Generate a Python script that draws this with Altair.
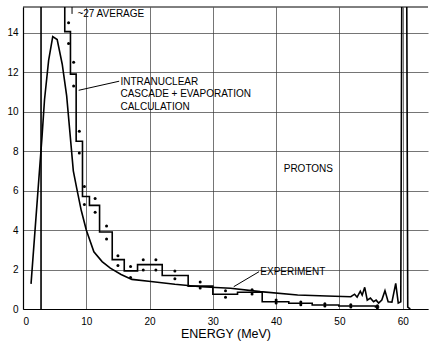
import altair as alt
import pandas as pd

# Calculation histogram (bin left edges / values), off-scale first bin ~27
hist_x = [2.85, 2.85, 6.6, 7.5, 8.4, 9.4, 10.5, 12.1, 14.1, 16.0, 18.1, 22.0, 26.1, 30.0, 33.9, 37.8, 42.0, 45.7, 49.9, 55.7, 56.3]
hist_y = [0.0, 27.0, 14.05, 11.9, 8.5, 5.7, 5.25, 3.9, 2.5, 1.93, 2.25, 1.7, 1.16, 0.75, 0.85, 0.37, 0.29, 0.2, 0.15, 0.1, 0.1]

# Calculation statistical points (upper / lower)
pt_x = [7.2, 8.0, 8.9, 9.7, 11.4, 13.2, 15.0, 17.0, 19.0, 21.0, 24.0, 28.0, 32.0, 36.2, 40.0, 43.9, 47.7, 51.8, 56.0]
pt_hi = [14.5, 12.5, 9.0, 6.2, 5.6, 4.2, 2.7, 2.15, 2.5, 2.5, 1.93, 1.37, 0.92, 0.97, 0.46, 0.36, 0.27, 0.22, 0.17]
pt_lo = [13.45, 11.3, 7.9, 5.3, 4.9, 3.55, 2.2, 1.6, 1.97, 1.97, 1.53, 1.07, 0.6, 0.76, 0.3, 0.22, 0.15, 0.1, 0.05]

# Experiment curve
exp_x = [1.27, 2.6, 3.0, 3.4, 4.05, 4.7, 5.4, 6.2, 6.9, 7.4, 7.95, 8.5, 9.2, 10.0, 11.2, 12.5, 13.8, 15.5, 17.2,
         20.2, 24.0, 28.1, 32.8, 37.5, 43.4, 48.0, 51.8, 52.4, 52.8, 53.3, 53.6, 54.0, 54.4, 54.9, 55.4, 55.8,
         56.2, 56.7, 57.2, 57.7, 58.3, 58.9, 59.3, 59.7, 60.0, 60.5, 60.8, 61.2]
exp_y = [1.27, 7.0, 8.7, 10.6, 12.6, 13.8, 13.65, 12.4, 10.8, 9.0, 7.0, 6.1, 5.0, 4.0, 2.9, 2.4, 2.07, 1.75, 1.5,
         1.39, 1.25, 1.13, 1.05, 0.88, 0.71, 0.66, 0.62, 0.75, 0.6, 0.9, 0.7, 1.1, 0.45, 0.55, 0.37, 0.45,
         0.3, 0.45, 0.93, 0.37, 0.35, 1.3, 0.3, 0.37, 30.0, 30.0, 0.1, 0.0]

x_ticks = list(range(0, 65, 5))
y_ticks = [0, 2, 4, 6, 8, 10, 12, 14]
XMAX = 64.0
YMAX = 15.3

FONT = "Liberation Sans"

xs = alt.Scale(domain=[0, XMAX], nice=False, zero=False)
ys = alt.Scale(domain=[0, YMAX], nice=False)

hist_df = pd.DataFrame({"x": hist_x, "y": hist_y, "o": range(len(hist_x))})
pts_df = pd.DataFrame({"x": pt_x * 2, "y": pt_hi + pt_lo})
exp_df = pd.DataFrame({"x": exp_x, "y": exp_y, "o": range(len(exp_x))})

xaxis = alt.Axis(values=x_ticks, grid=True, gridColor="#3a3a3a", gridWidth=0.7, tickSize=0,
                 labelExpr="datum.value % 10 == 0 ? datum.label : ''", labelFontSize=10,
                 labelFont=FONT, labelColor="black", labelPadding=7, domainColor="black",
                 domainWidth=1.2, title="ENERGY (MeV)", titleFont=FONT, titleFontSize=12.5,
                 titleFontWeight="normal", titleColor="black", titlePadding=1)
yaxis = alt.Axis(values=y_ticks, grid=True, gridColor="#3a3a3a", gridWidth=0.7, tickSize=0,
                 labelFontSize=10, labelFont=FONT, labelColor="black", labelPadding=5,
                 domainColor="black", domainWidth=1.2, title=None)

base_grid = alt.Chart(pd.DataFrame({"x": [0], "y": [0]})).mark_point(opacity=0).encode(
    x=alt.X("x:Q", scale=xs, axis=xaxis),
    y=alt.Y("y:Q", scale=ys, axis=yaxis),
)

top_border = alt.Chart(pd.DataFrame({"y": [YMAX]})).mark_rule(color="black", strokeWidth=1).encode(
    y=alt.Y("y:Q", scale=ys), x=alt.value(0), x2=alt.value(405)
)

hist = alt.Chart(hist_df).mark_line(interpolate="step-after", color="black", strokeWidth=1.6, clip=True).encode(
    x=alt.X("x:Q", scale=xs), y=alt.Y("y:Q", scale=ys), order="o:Q"
)

curve = alt.Chart(exp_df).mark_line(color="black", strokeWidth=1.6, clip=True).encode(
    x=alt.X("x:Q", scale=xs), y=alt.Y("y:Q", scale=ys), order="o:Q"
)

dots = alt.Chart(pts_df).mark_circle(color="black", size=9, opacity=1).encode(
    x=alt.X("x:Q", scale=xs), y=alt.Y("y:Q", scale=ys)
)

labels_df = pd.DataFrame({
    "x": [8.6, 15.4, 15.4, 15.4, 41.2, 37.5],
    "y": [14.97, 11.52, 10.88, 10.25, 7.1, 1.85],
    "t": ["~27 AVERAGE", "INTRANUCLEAR", "CASCADE + EVAPORATION", "CALCULATION", "PROTONS", "EXPERIMENT"],
    "s": [10, 10, 10, 10, 10, 10],
})
texts = alt.Chart(labels_df).mark_text(align="left", baseline="middle", font=FONT, color="black").encode(
    x=alt.X("x:Q", scale=xs), y=alt.Y("y:Q", scale=ys), text="t:N",
    size=alt.Size("s:Q", scale=None, legend=None)
)

leaders_df = pd.DataFrame({
    "x": [15.2, 37.3, 7.75], "y": [11.54, 1.89, 14.95],
    "x2": [8.8, 33.3, 7.75], "y2": [11.08, 1.13, YMAX],
})
leaders = alt.Chart(leaders_df).mark_rule(color="black", strokeWidth=1).encode(
    x=alt.X("x:Q", scale=xs), y=alt.Y("y:Q", scale=ys), x2="x2:Q", y2="y2:Q"
)

chart = alt.layer(base_grid, top_border, hist, curve, dots, texts, leaders).properties(
    width=405, height=302,
    autosize=alt.AutoSizeParams(type="none"),
    padding={"left": 23, "top": 7, "right": 1, "bottom": 33},
    background="white",
).configure_view(stroke=None)

chart.save("out.html", embed_options={"renderer": "svg", "actions": False})
